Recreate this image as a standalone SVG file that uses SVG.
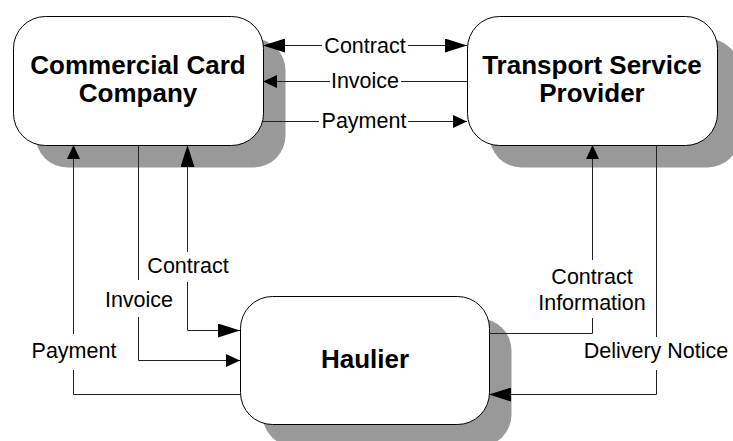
<svg xmlns="http://www.w3.org/2000/svg" width="733" height="441" viewBox="0 0 733 441">
  <style>
    .shadow { fill: #999999; stroke: none; }
    .box { fill: #ffffff; stroke: #000000; stroke-width: 1; }
    .title { font-family: "Liberation Sans", Arial, sans-serif; font-weight: bold; font-size: 26px; fill: #000000; text-anchor: middle; }
    .label { font-family: "Liberation Sans", Arial, sans-serif; font-size: 21.5px; fill: #000000; text-anchor: middle; }
    .flow { fill: none; stroke: #222222; stroke-width: 1; }
  </style>
  <defs>
    <marker id="big" markerUnits="userSpaceOnUse" markerWidth="22" markerHeight="14" refX="22" refY="7" orient="auto">
      <path d="M0,0 L22,7 L0,14 Z" fill="#000000"/>
    </marker>
    <marker id="small" markerUnits="userSpaceOnUse" markerWidth="14" markerHeight="13" refX="14" refY="6.5" orient="auto">
      <path d="M0,0 L14,6.5 L0,13 Z" fill="#000000"/>
    </marker>
  </defs>

  <g id="commercial-card-company">
    <rect class="shadow" x="35.5" y="38.5" width="250" height="129" rx="32" ry="32"/>
    <rect class="box" x="13.5" y="16.5" width="250" height="129" rx="32" ry="32"/>
    <text class="title" x="138" y="74">Commercial Card</text>
    <text class="title" x="138" y="102">Company</text>
  </g>

  <g id="transport-service-provider">
    <rect class="shadow" x="489.5" y="38.5" width="250" height="129" rx="32" ry="32"/>
    <rect class="box" x="467.5" y="16.5" width="250" height="129" rx="32" ry="32"/>
    <text class="title" x="592" y="74">Transport Service</text>
    <text class="title" x="592" y="102">Provider</text>
  </g>

  <g id="haulier">
    <rect class="shadow" x="262.5" y="318.5" width="249" height="128" rx="32" ry="32"/>
    <rect class="box" x="240.5" y="296.5" width="249" height="128" rx="32" ry="32"/>
    <text class="title" x="365" y="368">Haulier</text>
  </g>

  <g id="connectors">
    <!-- Contract: card company <-> transport provider -->
    <path class="flow" d="M322,45.5 H263" marker-end="url(#big)"/>
    <path class="flow" d="M408,45.5 H467" marker-end="url(#big)"/>
    <text class="label" x="365" y="53">Contract</text>

    <!-- Invoice: transport provider -> card company -->
    <path class="flow" d="M467,81.5 H401"/>
    <path class="flow" d="M330,81.5 H263" marker-end="url(#small)"/>
    <text class="label" x="365" y="88">Invoice</text>

    <!-- Payment: card company -> transport provider -->
    <path class="flow" d="M263,121.5 H319"/>
    <path class="flow" d="M408,121.5 H467" marker-end="url(#small)"/>
    <text class="label" x="364" y="128">Payment</text>

    <!-- Payment: haulier -> card company -->
    <path class="flow" d="M240,394.5 H73.5 V370"/>
    <path class="flow" d="M73.5,334 V145" marker-end="url(#small)"/>
    <text class="label" x="74" y="358">Payment</text>

    <!-- Invoice: card company -> haulier -->
    <path class="flow" d="M138.5,145 V280"/>
    <path class="flow" d="M138.5,317 V360.5 H240" marker-end="url(#small)"/>
    <text class="label" x="139" y="307">Invoice</text>

    <!-- Contract: card company <-> haulier -->
    <path class="flow" d="M187.5,252 V145" marker-end="url(#big)"/>
    <path class="flow" d="M187.5,282 V330.5 H240" marker-end="url(#big)"/>
    <text class="label" x="188" y="273">Contract</text>

    <!-- Contract information: haulier -> transport provider -->
    <path class="flow" d="M489,333.5 H592.5 V318"/>
    <path class="flow" d="M592.5,260 V145" marker-end="url(#small)"/>
    <text class="label" x="592" y="284">Contract</text>
    <text class="label" x="592" y="310">Information</text>

    <!-- Delivery notice: transport provider -> haulier -->
    <path class="flow" d="M656.5,145 V337"/>
    <path class="flow" d="M656.5,370 V394.5 H489" marker-end="url(#big)"/>
    <text class="label" x="656" y="358">Delivery Notice</text>
  </g>
</svg>
